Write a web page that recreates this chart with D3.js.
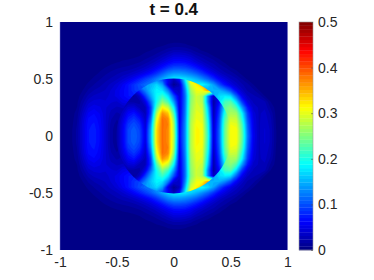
<!DOCTYPE html>
<html>
<head>
<meta charset="utf-8">
<script src="https://cdn.jsdelivr.net/npm/d3@7"></script>
<style>
  html, body { margin: 0; background: #fff; }
  svg { display: block; }
  text { font-family: "Liberation Sans", Arial, sans-serif; }
</style>
</head>
<body>
<div id="viz"></div>
<script>
const titleText = "t = 0.4";
const xTicks = [-1, -0.5, 0, 0.5, 1];
const yTicks = [-1, -0.5, 0, 0.5, 1];
const barTicks = [0, 0.1, 0.2, 0.3, 0.4, 0.5];
const circleRadius = 0.505;

// values below are thousandths, upper half only
// (the picture mirrors about y = 0)
const outerStep = 0.05;
const outerRows = [
  // y = 0
  [3,3,6,18,44,70,75,62,40,18,10,20,30,30,30,30,30,30,30,30,30,30,30,30,30,30,60,130,200,250,310,310,240,120,55,30,40,30,8,3,3],
  [3,3,6,18,44,70,75,62,40,18,10,20,30,30,30,30,30,30,30,30,30,30,30,30,30,30,60,130,200,250,310,310,235,116,52,30,40,30,8,3,3],
  [3,3,5,16,43,68,72,60,40,20,12,20,30,30,30,30,30,30,30,30,30,30,30,30,30,30,60,130,190,250,305,300,225,110,50,30,38,28,7,3,3],
  [3,3,4,14,40,64,68,58,40,24,16,22,30,30,30,30,30,30,30,30,30,30,30,30,30,30,60,130,190,250,290,285,205,100,48,30,36,26,6,3,3],
  [3,3,4,11,34,56,62,54,40,28,22,26,30,30,30,30,30,30,30,30,30,30,30,30,30,30,60,130,190,240,270,265,185,90,44,30,34,22,5,3,3],
  [3,3,3,8,27,46,52,48,40,34,30,32,34,34,34,34,34,34,34,34,34,34,34,34,34,34,60,120,180,235,255,225,140,70,36,30,30,15,4,3,3],
  [3,3,3,6,20,36,42,42,40,40,38,50,55,55,55,55,55,55,55,55,55,55,55,55,55,55,70,120,170,220,230,170,90,45,30,30,25,8,3,3,3],
  [3,3,3,4,13,26,33,36,36,42,50,60,70,75,75,75,75,75,75,75,75,75,75,75,75,75,90,140,170,180,170,110,55,32,25,20,8,3,3,3,3],
  [3,3,3,3,8,17,24,28,32,40,50,60,70,85,95,100,100,100,100,100,100,100,100,100,100,120,150,150,150,130,100,60,35,22,18,8,3,3,3,3,3],
  [3,3,3,3,4,10,16,21,27,34,42,55,70,85,100,115,125,135,150,160,170,170,170,175,185,190,170,140,100,70,50,35,25,18,8,3,3,3,3,3,3],
  // y = 0.5
  [3,3,3,3,3,5,10,15,20,25,30,38,48,60,75,90,105,125,145,165,180,180,175,165,150,130,110,85,60,45,32,25,15,6,3,3,3,3,3,3,3],
  [3,3,3,3,3,3,5,9,14,18,22,26,30,36,44,55,68,85,105,125,135,135,130,120,105,88,68,50,35,25,20,12,5,3,3,3,3,3,3,3,3],
  [3,3,3,3,3,3,3,5,8,11,14,16,18,21,26,33,42,55,70,85,95,96,92,82,70,55,40,30,22,16,8,4,3,3,3,3,3,3,3,3,3],
  [3,3,3,3,3,3,3,3,3,5,7,9,10,12,15,20,26,34,45,56,65,66,63,55,42,33,25,20,12,6,3,3,3,3,3,3,3,3,3,3,3],
  [3,3,3,3,3,3,3,3,3,3,3,4,5,6,8,11,15,20,28,36,45,45,42,36,26,20,14,8,4,3,3,3,3,3,3,3,3,3,3,3,3],
  [3,3,3,3,3,3,3,3,3,3,3,3,3,3,4,6,8,11,15,20,25,25,23,18,12,7,4,3,3,3,3,3,3,3,3,3,3,3,3,3,3],
  // y = 0.8
  [3,3,3,3,3,3,3,3,3,3,3,3,3,3,3,3,3,5,6,9,10,10,9,6,4,3,3,3,3,3,3,3,3,3,3,3,3,3,3,3,3],
  [3,3,3,3,3,3,3,3,3,3,3,3,3,3,3,3,3,3,3,3,4,4,3,3,3,3,3,3,3,3,3,3,3,3,3,3,3,3,3,3,3],
  [3,3,3,3,3,3,3,3,3,3,3,3,3,3,3,3,3,3,3,3,3,3,3,3,3,3,3,3,3,3,3,3,3,3,3,3,3,3,3,3,3],
  [3,3,3,3,3,3,3,3,3,3,3,3,3,3,3,3,3,3,3,3,3,3,3,3,3,3,3,3,3,3,3,3,3,3,3,3,3,3,3,3,3],
  [3,3,3,3,3,3,3,3,3,3,3,3,3,3,3,3,3,3,3,3,3,3,3,3,3,3,3,3,3,3,3,3,3,3,3,3,3,3,3,3,3]
];

// inside the circle, x = -0.55 .. 0.55, y = 0 .. 0.55
const innerStep = 0.05;
const innerRows = [
  [15,20,55,95,110,95,50,150,330,385,370,280,60,130,275,315,310,210,40,110,240,310,310],
  [15,20,55,95,108,93,48,148,330,385,370,275,58,130,275,315,310,205,38,110,240,310,310],
  [15,20,52,88,100,85,42,135,320,385,375,270,55,128,275,312,305,200,35,105,235,305,305],
  [15,18,45,75,88,70,35,115,300,385,370,255,50,125,270,305,300,190,30,100,225,290,285],
  [15,18,35,60,70,50,28,95,270,365,340,225,48,120,265,300,295,175,25,90,205,270,265],
  [15,16,25,42,45,28,30,90,225,315,285,185,45,118,260,295,285,160,22,80,180,240,225],
  [15,15,18,22,20,20,50,115,195,255,220,140,45,115,255,290,275,130,18,65,150,200,180],
  [15,15,15,15,15,35,90,145,190,215,175,100,42,115,250,290,275,130,30,60,130,170,150],
  [15,15,15,20,45,85,125,160,185,175,125,45,35,125,265,305,310,360,300,200,130,130,130],
  [15,15,40,80,110,130,140,150,170,140,50,10,30,150,290,315,350,370,300,200,130,130,130],
  [40,60,80,100,120,130,130,130,120,95,60,30,70,180,330,400,400,380,300,200,130,130,130],
  [40,60,80,100,120,130,130,130,120,95,60,30,70,180,330,400,400,380,300,200,130,130,130]
];

const width = 374, height = 280;
const plot = { left: 60, right: 287.5, top: 22, bottom: 250 };
const bar = { left: 299, right: 313 };

// matlab jet, 64 steps
function jet(t) {
  const ch = v => Math.round(255 * Math.max(0, Math.min(1, v)));
  const r = 1.5 - Math.abs(4 * t - 3);
  const g = 1.5 - Math.abs(4 * t - 2);
  const b = 1.5 - Math.abs(4 * t - 1);
  return `rgb(${ch(r)},${ch(g)},${ch(b)})`;
}
const levels = d3.range(64);
const levelColor = i => jet((i + 0.5) / 64);

const x = d3.scaleLinear().domain([-1, 1]).range([plot.left, plot.right]);
const y = d3.scaleLinear().domain([-1, 1]).range([plot.bottom, plot.top]);
const c = d3.scaleLinear().domain([0, 0.5]).range([plot.bottom, plot.top]);

const svg = d3.select("#viz").append("svg")
  .attr("width", width)
  .attr("height", height);

const defs = svg.append("defs");
defs.append("clipPath").attr("id", "plot-clip").append("rect")
  .attr("x", plot.left).attr("y", plot.top)
  .attr("width", plot.right - plot.left).attr("height", plot.bottom - plot.top);
// a mask, not a clipPath: clipping each stacked contour leaves a dark hairline on the edge
defs.append("mask").attr("id", "circle-mask")
  .attr("maskUnits", "userSpaceOnUse")
  .attr("x", 0).attr("y", 0).attr("width", width).attr("height", height)
  .append("circle")
  .attr("cx", x(0)).attr("cy", y(0))
  .attr("r", x(circleRadius) - x(0))
  .attr("fill", "#fff");

// mirror the upper half and draw it as filled contours, one per colour level
function drawField(parent, rows, x0, y0Max, step) {
  const lower = rows.slice(1);
  const grid = lower.slice().reverse().concat(rows); // bottom row first
  const n = grid.length, m = grid[0].length;
  const values = grid.flat().map(v => v / 1000);
  const contours = d3.contours().size([m, n]).smooth(true)
    .thresholds(levels.map(i => i / 64 * 0.5))(values);
  const path = d3.geoPath(d3.geoTransform({
    point(px, py) {
      this.stream.point(x(x0 + (px - 0.5) * step), y(-y0Max + (py - 0.5) * step));
    }
  }));
  parent.selectAll("path")
    .data(contours)
    .join("path")
    .attr("d", path)
    .attr("fill", (d, i) => levelColor(i));
}

const outer = svg.append("g").attr("clip-path", "url(#plot-clip)");
outer.append("rect")
  .attr("x", plot.left).attr("y", plot.top)
  .attr("width", plot.right - plot.left).attr("height", plot.bottom - plot.top)
  .attr("fill", levelColor(0));
drawField(outer.append("g"), outerRows, -1, 1, outerStep);
drawField(outer.append("g").attr("mask", "url(#circle-mask)"), innerRows, -0.55, 0.55, innerStep);

const tickColor = "#262626";
function styleAxis(sel) {
  sel.select(".domain").remove();
  sel.selectAll("text").attr("fill", tickColor).style("font-size", "14px");
}

svg.append("g")
  .attr("transform", `translate(0,${plot.bottom})`)
  .call(d3.axisBottom(x).tickValues(xTicks).tickFormat(String).tickSize(0).tickPadding(7))
  .call(styleAxis);

svg.append("g")
  .attr("transform", `translate(${plot.left},0)`)
  .call(d3.axisLeft(y).tickValues(yTicks).tickFormat(String).tickSize(0).tickPadding(7))
  .call(styleAxis);

// thin side lines of the box
svg.append("g").selectAll("line")
  .data([plot.left, plot.right])
  .join("line")
  .attr("x1", d => d).attr("x2", d => d)
  .attr("y1", plot.top).attr("y2", plot.bottom)
  .attr("stroke", "#8a8ad0").attr("stroke-opacity", 0.6).attr("stroke-width", 0.8);

svg.append("text")
  .attr("x", x(0)).attr("y", 15)
  .attr("text-anchor", "middle")
  .attr("fill", "#111")
  .style("font-size", "17px")
  .style("font-weight", "bold")
  .text(titleText);

// colorbar
svg.append("g").selectAll("rect")
  .data(levels)
  .join("rect")
  .attr("x", bar.left)
  .attr("width", bar.right - bar.left)
  .attr("y", d => c((d + 1) / 64 * 0.5))
  .attr("height", d => c(d / 64 * 0.5) - c((d + 1) / 64 * 0.5) + 0.3)
  .attr("fill", d => levelColor(d));

svg.append("rect")
  .attr("x", bar.left).attr("y", plot.top)
  .attr("width", bar.right - bar.left).attr("height", plot.bottom - plot.top)
  .attr("fill", "none").attr("stroke", "#999").attr("stroke-width", 0.6);

svg.append("g")
  .attr("transform", `translate(${bar.right},0)`)
  .call(d3.axisRight(c).tickValues(barTicks).tickFormat(String).tickSize(-2).tickPadding(5))
  .call(styleAxis)
  .call(g => g.selectAll("line").attr("stroke", "#555").attr("stroke-width", 0.6));
</script>
</body>
</html>
